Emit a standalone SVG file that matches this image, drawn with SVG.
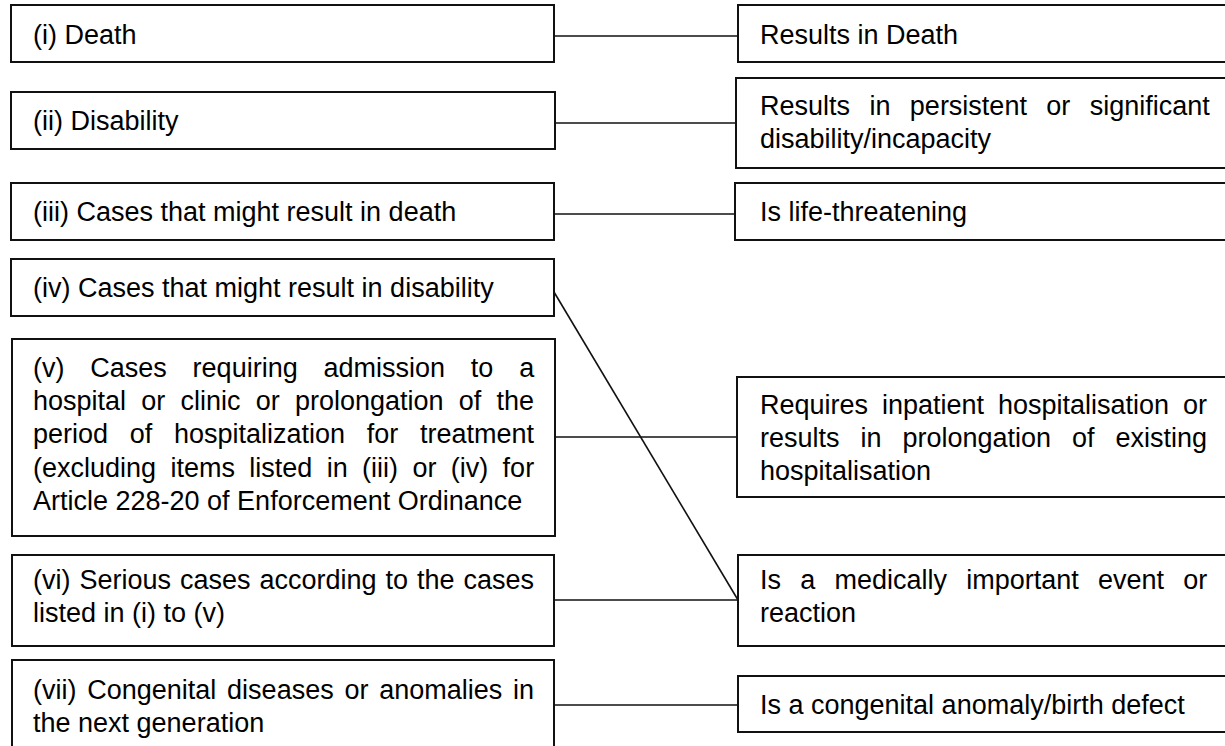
<svg xmlns="http://www.w3.org/2000/svg" width="1225" height="746" viewBox="0 0 1225 746">
<style>
.box{fill:#fff;stroke:#111;stroke-width:2}
.t{font-family:"Liberation Sans",Arial,sans-serif;font-size:27px;fill:#000}
.c{stroke:#111;stroke-width:1.6;fill:none}
</style>
<rect width="1225" height="746" fill="#fff"/>
<g id="connectors">
<line class="c" x1="554" y1="36" x2="738" y2="36"/>
<line class="c" x1="555" y1="123" x2="736" y2="123"/>
<line class="c" x1="554" y1="214" x2="735" y2="214"/>
<line class="c" x1="554" y1="292" x2="738" y2="600"/>
<line class="c" x1="555" y1="437" x2="737" y2="437"/>
<line class="c" x1="554" y1="600" x2="738" y2="600"/>
<line class="c" x1="554" y1="705" x2="738" y2="705"/>
</g>
<g id="n1"><rect class="box" x="11" y="5" width="543" height="57"/><text class="t" x="33" y="44">(i) Death</text></g>
<g id="n2"><rect class="box" x="11" y="92" width="544" height="57"/><text class="t" x="33" y="130">(ii) Disability</text></g>
<g id="n3"><rect class="box" x="11" y="183" width="543" height="57"/><text class="t" x="33" y="221">(iii) Cases that might result in death</text></g>
<g id="n4"><rect class="box" x="11" y="259" width="543" height="57"/><text class="t" x="33" y="297">(iv) Cases that might result in disability</text></g>
<g id="n5"><rect class="box" x="12" y="339" width="543" height="197"/>
<text class="t" x="33" y="377" style="word-spacing:18.3px">(v) Cases requiring admission to a</text>
<text class="t" x="33" y="410" style="word-spacing:7.7px">hospital or clinic or prolongation of the</text>
<text class="t" x="33" y="443" style="word-spacing:14.2px">period of hospitalization for treatment</text>
<text class="t" x="33" y="477" style="word-spacing:6.86px">(excluding items listed in (iii) or (iv) for</text>
<text class="t" x="33" y="510">Article 228-20 of Enforcement Ordinance</text>
</g>
<g id="n6"><rect class="box" x="12" y="555" width="542" height="91"/>
<text class="t" x="33" y="589" style="word-spacing:1.47px">(vi) Serious cases according to the cases</text>
<text class="t" x="33" y="622">listed in (i) to (v)</text>
</g>
<g id="n7"><rect class="box" x="12" y="660" width="542" height="100"/>
<text class="t" x="33" y="699" style="word-spacing:3.26px">(vii) Congenital diseases or anomalies in</text>
<text class="t" x="33" y="732">the next generation</text>
</g>
<g id="r1"><rect class="box" x="738" y="5" width="500" height="57"/><text class="t" x="760" y="44">Results in Death</text></g>
<g id="r2"><rect class="box" x="736" y="78" width="502" height="90"/>
<text class="t" x="760" y="115" style="word-spacing:11.9px">Results in persistent or significant</text>
<text class="t" x="760" y="148">disability/incapacity</text>
</g>
<g id="r3"><rect class="box" x="735" y="183" width="503" height="57"/><text class="t" x="760" y="221">Is life-threatening</text></g>
<g id="r5"><rect class="box" x="737" y="377" width="501" height="120"/>
<text class="t" x="760" y="414" style="word-spacing:6.4px">Requires inpatient hospitalisation or</text>
<text class="t" x="760" y="447" style="word-spacing:13.45px">results in prolongation of existing</text>
<text class="t" x="760" y="480">hospitalisation</text>
</g>
<g id="r6"><rect class="box" x="738" y="555" width="500" height="91"/>
<text class="t" x="760" y="589" style="word-spacing:11.7px">Is a medically important event or</text>
<text class="t" x="760" y="622">reaction</text>
</g>
<g id="r7"><rect class="box" x="738" y="676" width="500" height="56"/><text class="t" x="760" y="714">Is a congenital anomaly/birth defect</text></g>
</svg>
